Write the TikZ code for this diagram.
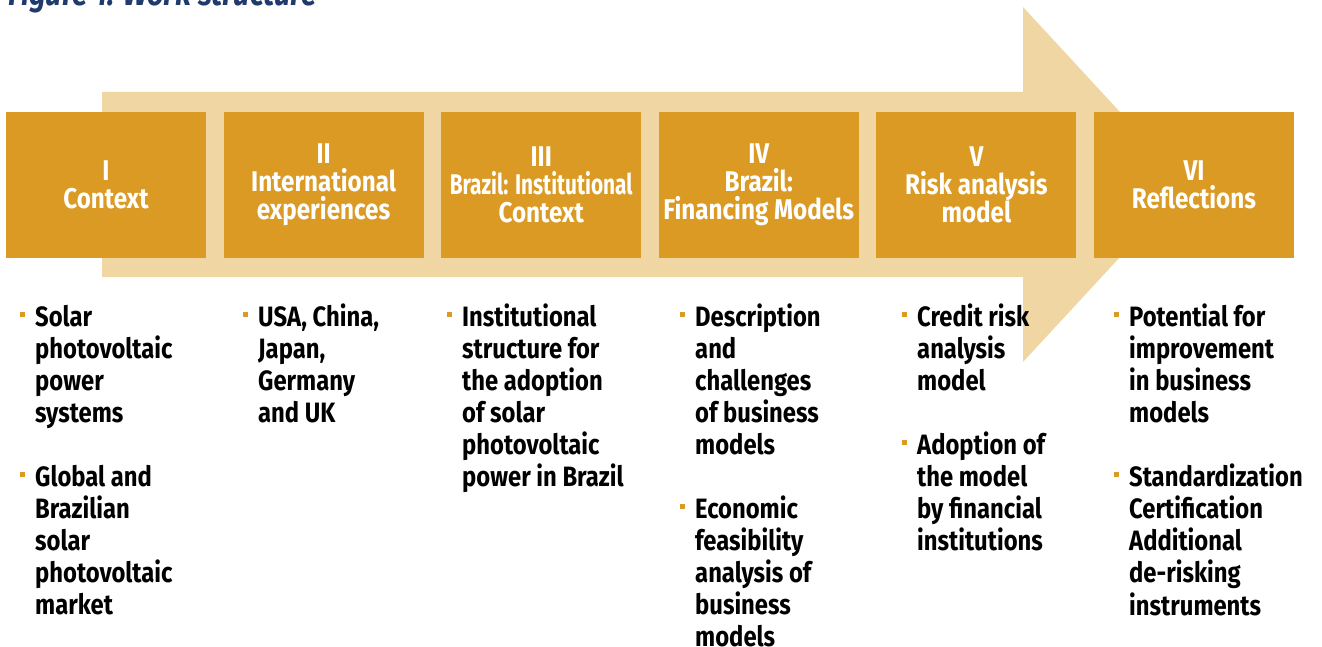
\documentclass[tikz,border=0pt]{standalone}
\usepackage{fontspec}
\setmainfont{Fira Sans}[FakeStretch=0.85]
\usetikzlibrary{calc}
\definecolor{boxc}{HTML}{DA9A24}
\definecolor{arrowc}{HTML}{F0D6A2}
\definecolor{titlec}{HTML}{1F3A6D}
\newcommand\lines[1]{\begin{tabular}[t]{@{}l@{}}#1\end{tabular}}
\newcommand\bitem[3]{%
  \node[item] (#1) at (#2) {\lines{#3}};
  \fill[boxc] ($(#1.base west)+(-15,-14)$) rectangle +(5,5);}
\tikzset{
  stage/.style={fill=boxc, text=white, minimum width=200pt, minimum height=146pt,
    inner sep=0pt, align=center, font=\fontsize{28.5}{28}\selectfont\bfseries},
  item/.style={anchor=base west, inner sep=0pt, text=black,
    font=\fontsize{28}{32}\selectfont\bfseries},
}
\begin{document}
\begin{tikzpicture}[x=1pt,y=-1pt]
\useasboundingbox (0,0) rectangle (1322,647);
\node[anchor=base west, inner sep=0pt, text=titlec,
  font=\fontsize{34}{34}\selectfont\bfseries\itshape] (title) at (8,6) {Figure 1: Work structure};
\fill[arrowc] (102,92) -- (1023,92) -- (1023,7) -- (1187,184.5) -- (1023,362)
  -- (1023,277) -- (102,277) -- cycle;
\node[stage] (s1) at (106,185) {I\\Context};
\node[stage] (s2) at (323.6,185) {II\\International\\experiences};
\node[stage] (s3) at (541.2,185) {III\\\scalebox{0.86}[1]{Brazil: Institutional}\\Context};
\node[stage] (s4) at (758.8,185) {IV\\Brazil:\\Financing Models};
\node[stage] (s5) at (976.4,185) {V\\Risk analysis\\model};
\node[stage] (s6) at (1194,185) {VI\\Reflections};
\bitem{i1a}{35,326}{Solar\\photovoltaic\\power\\systems}
\bitem{i1b}{35,486}{Global and\\Brazilian\\solar\\photovoltaic\\market}
\bitem{i2a}{258,326}{USA, China,\\Japan,\\Germany\\and UK}
\bitem{i3a}{462,326}{Institutional\\structure for\\the adoption\\of solar\\photovoltaic\\power in Brazil}
\bitem{i4a}{695,326}{Description\\and\\challenges\\of business\\models}
\bitem{i4b}{695,518}{Economic\\feasibility\\analysis of\\business\\models}
\bitem{i5a}{917,326}{Credit risk\\analysis\\model}
\bitem{i5b}{917,454}{Adoption of\\the model\\by financial\\institutions}
\bitem{i6a}{1129,326}{Potential for\\improvement\\in business\\models}
\bitem{i6b}{1129,486}{Standardization\\Certification\\Additional\\de-risking\\instruments}
\end{tikzpicture}
\end{document}
